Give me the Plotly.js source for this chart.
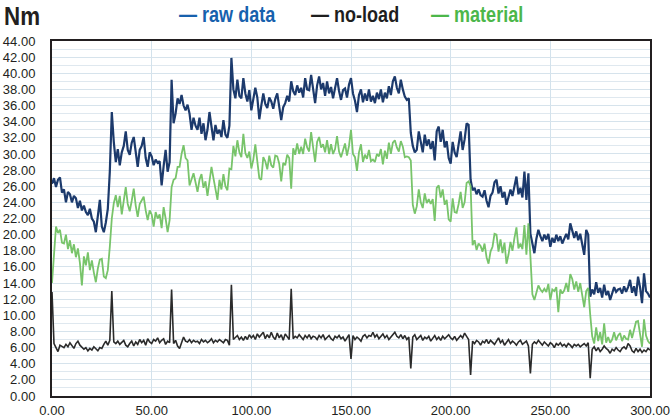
<!DOCTYPE html>
<html>
<head>
<meta charset="utf-8">
<script src="https://cdn.plot.ly/plotly-3.0.1.min.js"></script>
<style>
  html, body { margin: 0; padding: 0; background: #ffffff; }
  #chart { width: 672px; height: 420px; }
</style>
</head>
<body>
<div id="chart"></div>
<script>
// time axis: one sample per second starting at 0 s
const timeStart = 0;
const timeStep = 1;

const seriesNames = ["raw data", "no-load", "material"];
const xTickValues = [0, 50, 100, 150, 200, 250, 300];
const xTickLabels = ["0.00", "50.00", "100.00", "150.00", "200.00", "250.00", "300.00"];
const yUnit = "Nm";

const rawData = [
  26.3, 27.0, 25.9, 26.8, 27.1, 25.2, 25.6, 24.0, 25.3, 25.0,
  24.0, 24.8, 24.5, 23.3, 24.2, 23.0, 23.6, 22.8, 22.4, 23.2,
  22.0, 21.6, 20.3, 22.2, 24.3, 21.0, 20.3, 21.5, 23.2, 27.8,
  35.2, 31.5, 29.0, 30.6, 28.6, 30.2, 31.0, 32.8, 30.5, 29.9,
  31.4, 32.1, 30.0, 28.4, 30.5, 31.0, 32.1, 29.5, 28.4, 30.2,
  29.7, 28.6, 29.3, 28.9, 29.1, 26.1, 28.5, 30.5, 27.8, 29.0,
  39.2, 33.8, 35.0, 36.9, 36.2, 37.3, 36.0, 35.4, 36.1, 35.0,
  33.0, 34.5, 33.5, 33.0, 34.5, 32.5, 33.8, 31.7, 33.0, 35.2,
  33.4, 31.7, 33.6, 32.5, 33.0, 32.1, 34.2, 32.4, 32.0, 33.5,
  41.9, 38.0, 36.9, 39.2, 37.2, 36.9, 39.4, 37.5, 36.5, 37.9,
  35.4, 36.8, 38.2, 37.0, 34.3, 36.0, 37.5, 36.2, 35.7, 37.0,
  36.5, 35.6, 36.8, 37.5, 36.0, 34.2, 35.8, 36.3, 37.2, 36.5,
  39.0, 37.8, 37.3, 38.5, 37.6, 38.2, 37.0, 39.4, 38.0, 37.9,
  39.8, 38.2, 36.3, 38.5, 39.6, 38.0, 38.8, 37.2, 39.0, 37.5,
  38.3, 36.9, 38.0, 39.4, 37.8, 36.7, 37.9, 38.1, 37.0, 38.6,
  39.4, 37.5, 36.6, 35.2, 37.3, 38.0, 36.4, 37.5, 36.6, 38.0,
  36.5, 37.2, 36.3, 37.6, 36.8, 38.0, 36.4, 37.6, 36.9, 38.4,
  37.3, 39.0, 39.6, 38.2, 37.5, 39.2, 38.0, 37.1, 36.7, 36.9,
  32.6, 31.0, 30.2, 30.5, 32.8, 31.5, 30.2, 32.4, 31.0, 31.8,
  30.6, 31.6, 29.2, 32.8, 33.4, 31.5, 33.0, 30.8, 31.6, 29.5,
  28.8, 31.5, 30.2, 29.6, 31.0, 32.8, 30.5, 31.8, 33.8, 33.6,
  26.8, 25.5, 25.8, 25.0, 25.6, 24.9, 24.7, 25.5, 24.2, 23.4,
  24.8, 25.2, 26.5, 26.8, 25.1, 26.0, 24.6, 25.3, 23.7, 24.5,
  25.6, 24.8, 26.2, 27.2, 25.0, 25.8, 24.6, 27.8, 24.3, 27.6,
  20.1, 19.0, 17.7, 19.5, 20.6, 19.8, 19.2, 20.0, 19.4, 20.1,
  18.5, 19.6, 19.0, 20.0, 19.2, 19.8, 18.9, 19.5, 20.1, 19.4,
  21.4, 20.5, 19.6, 20.4, 19.3, 20.1, 18.6, 17.5, 20.6, 20.0,
  12.3, 13.2, 12.6, 14.1, 12.8, 13.4, 12.2, 13.8, 12.5, 13.0,
  11.9, 12.8, 13.5, 12.9, 13.2, 13.3, 12.7, 13.6, 12.9, 13.5,
  14.4, 12.8, 13.6, 12.4, 14.8, 13.5, 11.5, 15.2, 13.0, 12.7,
  12.2
];

const noLoad = [
  12.9, 6.5, 6.0, 5.5, 6.3, 6.2, 6.0, 6.4, 6.1, 6.6,
  6.2, 5.9, 6.5, 6.8, 6.3, 6.1, 5.8, 6.0, 5.6, 5.9,
  5.7, 6.1, 5.8, 5.6, 6.0, 5.9, 6.4, 6.8, 6.3, 6.9,
  13.0, 6.7, 6.5, 6.8, 6.4, 6.6, 6.9, 6.3, 6.1, 6.5,
  6.8, 6.2, 6.7, 6.4, 7.0, 6.6, 6.9, 6.3, 7.1, 6.7,
  6.5, 7.0, 6.8, 7.2, 6.6, 6.9, 7.1, 6.4, 6.8, 6.6,
  13.2, 6.5, 6.9, 6.2, 5.9, 6.6, 7.3, 6.8, 6.7, 7.0,
  6.6, 6.9, 6.7, 6.8, 6.5, 7.0, 6.7, 6.9, 6.6, 6.8,
  7.1, 6.6, 6.9, 6.7, 7.0, 6.8, 6.6, 7.0, 6.9, 6.3,
  13.8, 7.0, 7.2, 7.5, 7.0, 7.3, 6.9, 7.4, 7.0, 7.6,
  7.2, 7.5, 7.0, 7.7, 7.3, 7.6, 7.9, 7.1, 7.6, 7.2,
  7.9, 7.3, 7.0, 7.8, 7.2, 7.6, 6.9, 7.7, 7.3, 7.0,
  13.3, 7.1, 7.4, 7.2, 7.6, 7.3, 7.0, 7.5, 7.2, 7.6,
  7.1, 7.4, 7.3, 7.0, 7.5, 7.2, 7.6, 7.0, 7.3, 7.5,
  7.1, 6.9, 7.4, 7.2, 7.5, 7.1, 7.3, 6.8, 7.2, 7.6,
  4.6, 7.5, 7.0, 7.3, 7.1, 6.8, 7.4, 7.6, 7.2, 7.5,
  7.4, 7.9, 7.3, 7.6, 7.1, 7.4, 7.7, 7.2, 7.5, 7.0,
  7.3, 7.6, 7.9, 7.4, 7.2, 7.6, 7.1, 7.5, 7.0, 7.3,
  3.4, 7.3, 7.6, 7.0, 7.2, 7.5, 6.9, 7.3, 7.1, 7.4,
  6.8, 7.2, 7.5, 7.0, 7.3, 6.9, 7.4, 7.1, 7.3, 7.6,
  7.2, 7.0, 7.4, 6.9, 7.2, 7.5, 7.2, 7.8, 7.4, 7.0,
  2.6, 6.8, 6.5, 6.9, 6.7, 6.3, 6.8, 6.6, 7.0, 6.5,
  6.9, 6.7, 6.4, 6.8, 7.2, 6.6, 6.9, 6.3, 6.7, 7.0,
  6.5, 6.8, 6.6, 6.3, 6.7, 6.9, 6.4, 6.6, 6.8, 6.2,
  2.8, 6.4, 6.7, 6.5, 6.9, 6.6, 6.3, 6.7, 6.5, 6.2,
  6.6, 6.4, 6.0, 6.5, 6.3, 6.6, 6.2, 6.4, 6.1, 6.5,
  6.3, 6.0, 6.4, 6.2, 6.4, 6.1, 6.3, 6.5, 6.2, 6.6,
  2.2, 5.8, 6.1, 5.6, 6.0, 5.5, 5.8, 6.2, 5.9, 5.7,
  5.3, 5.8, 5.6, 6.0, 5.7, 5.5, 5.9, 6.1, 5.8, 6.5,
  6.2, 5.6, 5.4, 5.9, 5.5, 5.8, 5.4, 5.7, 5.5, 5.9,
  5.7
];

const material = [
  14.0, 18.0, 21.0, 20.2, 20.6, 19.0, 18.9, 20.0, 18.2, 19.3,
  17.7, 18.8, 17.2, 18.3, 16.5, 13.7, 17.3, 16.2, 17.8, 15.6,
  16.8, 15.3, 14.1, 15.8, 16.9, 17.0, 14.8, 14.6, 15.6, 18.5,
  22.0, 23.9, 24.9, 23.4, 24.8, 22.5, 24.0, 25.9, 23.8, 22.9,
  24.2, 25.7, 23.6, 22.2, 23.8, 24.2, 24.7, 23.0, 21.8, 23.0,
  22.5, 21.0, 22.8, 22.0, 22.5, 20.8, 23.4, 22.0, 20.3, 21.8,
  25.9, 26.8, 27.0, 28.4, 28.4, 30.0, 31.1, 29.5, 29.2, 26.1,
  27.0, 27.6, 26.5, 25.3, 26.8, 27.5, 25.8, 26.6, 24.8, 26.5,
  28.4, 27.0, 25.5, 24.3, 26.8, 25.6, 27.5, 26.0, 25.5, 28.2,
  28.1, 31.0, 29.7, 31.7, 30.2, 29.6, 32.5, 30.1, 29.5, 30.3,
  28.2, 29.3, 31.2, 29.3, 27.0, 26.8, 29.6, 29.1, 28.1, 29.8,
  28.6, 28.3, 29.8, 29.7, 28.8, 26.6, 28.9, 28.6, 29.9, 29.5,
  25.7, 30.7, 29.9, 31.3, 30.0, 30.9, 30.0, 31.9, 30.8, 30.3,
  32.7, 30.8, 29.0, 31.5, 32.1, 30.8, 31.2, 30.2, 31.7, 30.0,
  31.2, 30.0, 30.6, 32.2, 30.3, 29.6, 30.6, 31.3, 29.8, 31.0,
  33.0, 30.0, 29.6, 27.9, 30.2, 31.2, 29.0, 29.9, 29.4, 30.5,
  29.1, 29.3, 29.0, 30.0, 29.7, 30.6, 28.7, 30.4, 29.4, 31.4,
  30.0, 31.4, 31.7, 30.8, 30.3, 31.6, 30.9, 29.6, 29.7, 29.6,
  29.2, 23.7, 22.6, 23.5, 25.6, 24.0, 23.3, 25.1, 23.9, 24.4,
  23.8, 24.4, 21.7, 25.8, 26.1, 24.6, 25.6, 23.7, 24.3, 21.9,
  21.6, 24.5, 22.8, 22.7, 23.8, 25.3, 23.3, 24.0, 26.4, 26.6,
  26.0, 18.7, 19.3, 18.1, 18.9, 18.6, 17.9, 18.9, 17.2, 16.4,
  17.9, 18.5, 20.1, 20.0, 17.9, 19.4, 17.7, 19.0, 16.4, 17.5,
  19.1, 18.0, 19.6, 20.9, 18.3, 18.9, 18.2, 21.2, 17.5, 21.4,
  17.3, 12.6, 11.9, 13.0, 13.7, 13.2, 12.9, 13.3, 12.9, 13.9,
  11.9, 13.2, 13.0, 13.5, 10.4, 13.2, 12.7, 13.1, 14.0, 12.9,
  15.1, 14.5, 13.2, 14.2, 12.9, 14.0, 12.3, 11.0, 13.0, 13.4,
  10.1, 7.4, 6.5, 8.5, 6.8, 7.9, 6.4, 9.0, 6.6, 7.3,
  6.6, 7.0, 7.9, 6.9, 7.5, 7.8, 6.8, 7.5, 7.1, 7.0,
  8.2, 7.2, 8.2, 9.2, 9.3, 7.7, 6.1, 9.5, 7.5, 6.8,
  6.5
];

const lineColors = ["#1c3a6c", "#2b2b2b", "#78c46a"];
const legendColors = ["#1761ad", "#1e1e1e", "#4cb74a"];
const lineWidths = [2.2, 1.6, 1.8];

const traces = [rawData, noLoad, material].map((vals, i) => ({
  type: "scatter",
  mode: "lines",
  name: seriesNames[i],
  x0: timeStart,
  dx: timeStep,
  y: vals,
  line: { color: lineColors[i], width: lineWidths[i] },
  hoverinfo: "skip"
}));

const tickFont = { family: "Liberation Sans, Arial, sans-serif", size: 13, color: "#231f20" };
const boldFamily = "Liberation Sans, Arial, sans-serif";

// plot area: left 52, right 650, top 41, bottom 396 (px)
const legendX = [0.209, 0.4298, 0.6304];
const annotations = seriesNames.map((n, i) => ({
  xref: "paper", yref: "paper",
  x: legendX[i], y: 1.076,
  xanchor: "left", yanchor: "middle",
  showarrow: false,
  text: "\u2014 " + n,
  font: { family: boldFamily, size: 22, color: legendColors[i], weight: "bold" }
}));
annotations.push({
  xref: "paper", yref: "paper",
  x: -0.0836, y: 1.07,
  xanchor: "left", yanchor: "middle",
  showarrow: false,
  text: yUnit,
  font: { family: boldFamily, size: 26, color: "#231f20", weight: "bold" }
});

const layout = {
  width: 672,
  height: 420,
  margin: { l: 52, r: 22, t: 41, b: 24, pad: 0 },
  paper_bgcolor: "#ffffff",
  plot_bgcolor: "#ffffff",
  showlegend: false,
  xaxis: {
    range: [0, 300],
    tickmode: "array",
    tickvals: xTickValues,
    ticktext: xTickLabels,
    showgrid: true,
    gridcolor: "#d3e2ec",
    gridwidth: 1,
    zeroline: false,
    showline: true,
    mirror: true,
    linecolor: "#231f20",
    linewidth: 2,
    ticks: "",
    ticklabelstandoff: 1,
    tickfont: tickFont
  },
  yaxis: {
    range: [0, 44],
    dtick: 2,
    tick0: 0,
    tickformat: ".2f",
    showgrid: true,
    gridcolor: "#d6e3ec",
    gridwidth: 1,
    minor: { dtick: 1, showgrid: true, gridcolor: "#dfe8ef", gridwidth: 1 },
    zeroline: false,
    showline: true,
    mirror: true,
    linecolor: "#231f20",
    linewidth: 2,
    ticks: "",
    ticklabelstandoff: 12,
    tickfont: tickFont
  },
  annotations: annotations
};

// narrow the bold header texts horizontally (condensed look), anchored at their left edge
const condense = [0.82, 0.82, 0.82, 0.86];

Plotly.newPlot("chart", traces, layout, { displayModeBar: false, staticPlot: true }).then(gd => {
  const texts = gd.querySelectorAll(".annotation-text");
  texts.forEach((t, i) => {
    const bb = t.getBBox();
    const x0 = bb.x;
    const s = condense[i] || 1;
    const prev = t.getAttribute("transform") || "";
    t.setAttribute("transform", prev + " translate(" + x0 + " 0) scale(" + s + " 1) translate(" + (-x0) + " 0)");
  });
});
</script>
</body>
</html>
